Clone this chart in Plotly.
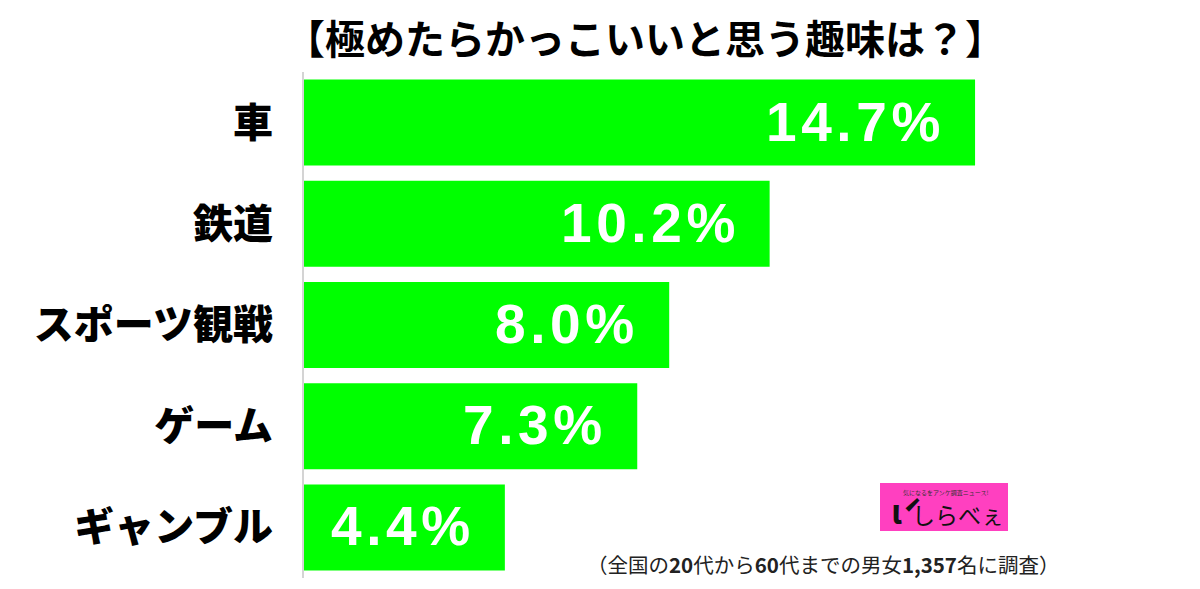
import plotly.graph_objects as go

categories = ["車", "鉄道", "スポーツ観戦", "ゲーム", "ギャンブル"]
values = [14.7, 10.2, 8.0, 7.3, 4.4]
value_labels = ["14.7%", "10.2%", "8.0%", "7.3%", "4.4%"]

title_text = "【極めたらかっこいいと思う趣味は？】"
note_text = "（全国の<b>20</b>代から<b>60</b>代までの男女<b>1,357</b>名に調査）"

JP = "Noto Sans CJK JP"
HAIR = "\u200a"

# page has an 8px body margin, so figure coords are shifted by -8
L, T = 296, 64
PW, PH = 876, 506

fig = go.Figure()
fig.add_trace(go.Bar(
    x=values, y=categories, orientation="h",
    marker=dict(color="#00ff00", line=dict(width=0)),
    hoverinfo="skip",
))

for c, v, t in zip(categories, values, value_labels):
    fig.add_annotation(
        x=v, y=c, xref="x", yref="y", text="<b>" + HAIR.join(t) + "</b>",
        xanchor="right", yanchor="middle", xshift=-33, yshift=1,
        showarrow=False,
        font=dict(family="Liberation Sans, Arial, sans-serif", size=55, color="white"),
    )

# footnote
fig.add_annotation(
    x=(1061 - 304) / PW, y=(578 - 564) / PH, xref="paper", yref="paper",
    text=note_text, xanchor="right", yanchor="middle", showarrow=False,
    font=dict(family=JP, size=20.5, color="#222222"),
)

# logo
lx0, lx1, ly0, ly1 = (880 - 304) / PW, (1008 - 304) / PW, (578 - 531) / PH, (578 - 483) / PH
fig.add_shape(type="rect", xref="paper", yref="paper", x0=lx0, x1=lx1, y0=ly0, y1=ly1,
              fillcolor="#ff40c0", line=dict(color="#ff40c0", width=0), layer="above")
fig.add_annotation(x=lx0 + 0.010, y=(ly0 + ly1) / 2 - 0.004, xref="paper", yref="paper",
                   text="<b>ί</b>", xanchor="left", yanchor="middle", showarrow=False,
                   font=dict(family=JP, size=34, color="#111111"))
fig.add_annotation(x=lx0 + 0.034, y=(ly0 + ly1) / 2 - 0.014, xref="paper", yref="paper",
                   text="しらべぇ", xanchor="left", yanchor="middle", showarrow=False,
                   font=dict(family=JP, size=23, color="#111111"))
fig.add_annotation(x=lx0 + 0.075, y=ly1 - 0.018, xref="paper", yref="paper",
                   text="気になるをアンケ調査ニュース!", xanchor="center", yanchor="middle",
                   showarrow=False, font=dict(family=JP, size=6, color="#333333"))

fig.update_layout(
    width=1200, height=589,
    margin=dict(l=L, r=1200 - L - PW, t=T, b=589 - T - PH),
    paper_bgcolor="white", plot_bgcolor="white",
    bargap=0.15,
    showlegend=False,
    title=dict(text=f"<b>{title_text}</b>", x=637 / 1200, xanchor="center",
               y=1 - 32 / 589, yanchor="middle",
               font=dict(family=JP, size=40, color="black", weight=900)),
)
fig.update_layout(title_xref="container")
fig.update_xaxes(range=[0, PW / 45.65], visible=False, fixedrange=True)
fig.update_yaxes(autorange="reversed", showline=True, linecolor="#d4d4d4", linewidth=2,
                 showgrid=False, zeroline=False, ticks="", ticklabelstandoff=21,
                 tickfont=dict(family=JP, size=40, color="black", weight=900))

fig.write_html("out.html")
